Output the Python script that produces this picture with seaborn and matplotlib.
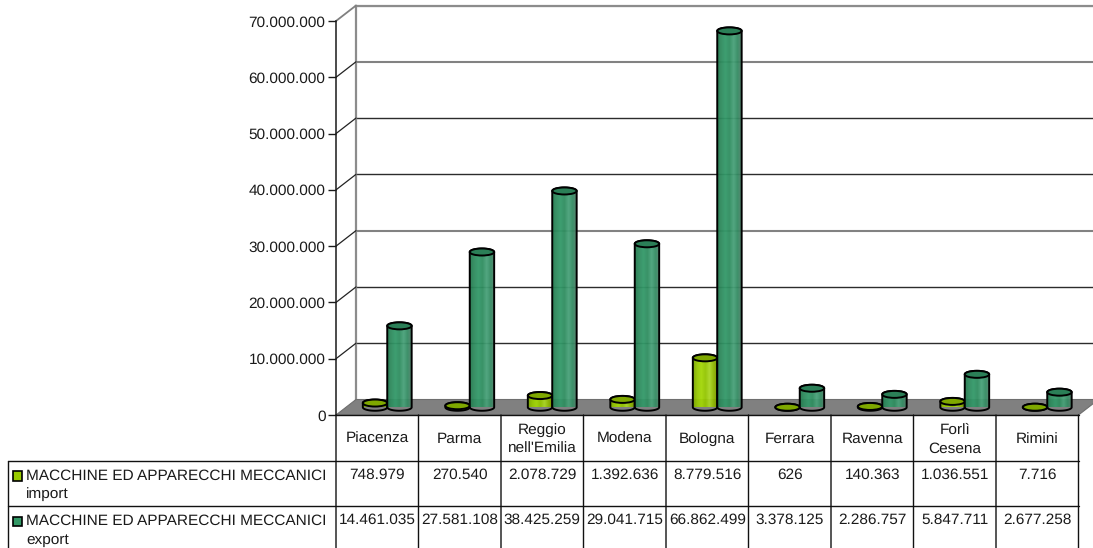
import numpy as np
import pandas as pd
import matplotlib
matplotlib.use("Agg")
import matplotlib.pyplot as plt
from matplotlib.colors import LinearSegmentedColormap
from matplotlib.patches import ConnectionPatch, Ellipse, Polygon, Rectangle
from matplotlib.ticker import FuncFormatter
import seaborn as sns

# ---------- data ----------
categories = ["Piacenza", "Parma", "Reggio\nnell'Emilia", "Modena", "Bologna",
              "Ferrara", "Ravenna", "Forlì\nCesena", "Rimini"]
import_values = [748979, 270540, 2078729, 1392636, 8779516, 626, 140363, 1036551, 7716]
export_values = [14461035, 27581108, 38425259, 29041715, 66862499, 3378125, 2286757, 5847711, 2677258]
series_names = ["MACCHINE ED APPARECCHI MECCANICI\nimport",
                "MACCHINE ED APPARECCHI MECCANICI\nexport"]
series_colors = ["#99CC00", "#339966"]
top_colors = ["#7FA800", "#2B7F57"]
gradients = [["#7AA600", "#96C800", "#A4D808", "#92C400", "#ACD828", "#8DB600", "#768F00"],
             ["#25794F", "#2E8B5E", "#349A6A", "#2F8C5F", "#4BA37B", "#348A62", "#55806C"]]
y_ticks = [0, 10000000, 20000000, 30000000, 40000000, 50000000, 60000000, 70000000]
soft_grid_ticks = [30000000, 60000000, 70000000]

# ---------- layout (pixels) ----------
W, H = 1093, 548
FRONT_L, FRONT_R, FRONT_B, FRONT_T = 336, 1078.5, 415, 21
DX, DY = 20, 15.5
FS = 11.05
PX_PER_UNIT = (FRONT_B - FRONT_T) / 70000000

sns.set_theme(style="white")
plt.rcParams["font.family"] = ["Liberation Sans", "DejaVu Sans"]
plt.rcParams["axes.facecolor"] = "none"
plt.rcParams["text.hinting"] = "no_hinting"
fig = plt.figure(figsize=(W / 100, H / 100), dpi=100, facecolor="white")


def plane(dx, dy, z):
    ax = fig.add_axes([(FRONT_L + dx) / W, 1 - (FRONT_B - dy) / H,
                       (FRONT_R - FRONT_L) / W, (FRONT_B - FRONT_T) / H], zorder=z)
    ax.set_facecolor("none")
    return ax


back = plane(DX, DY, 0)
mid = plane(DX / 2, DY / 2, 2)
front = plane(0, 0, 1)
tab = fig.add_axes([FRONT_L / W, 1 - 552 / H, (FRONT_R - FRONT_L) / W, (552 - FRONT_B) / H], zorder=3)
tab.set_facecolor("none")

# ---------- back wall + gridlines ----------
back.set_xlim(0, 9)
back.set_ylim(0, 70000000)
back.set_yticks(y_ticks)
back.set_xticks([])
back.tick_params(left=False, labelleft=False)
back.grid(axis="y", color="#2c2c2c", lw=1.0)
back.set_axisbelow(True)
for v, gl in zip(y_ticks, back.get_ygridlines()):
    if v in soft_grid_ticks:
        gl.set_color("#828282")
        gl.set_linewidth(1.5)
for name, sp in back.spines.items():
    sp.set_visible(name in ("left", "top"))
    sp.set_color("#8c8c8c")
    sp.set_linewidth(1.6)

# ---------- front axis ----------
front.set_xlim(0, 9)
front.set_ylim(0, 70000000)
front.set_yticks(y_ticks)
front.set_xticks([])
front.yaxis.set_major_formatter(FuncFormatter(lambda v, _: f"{int(v):,}".replace(",", ".")))
front.tick_params(axis="y", left=True, length=5.8, width=1.0, color="#1a1a1a",
                  labelsize=FS, labelcolor="#1a1a1a", pad=1.8)
sns.despine(ax=front, top=True, right=True, bottom=True)
front.spines["left"].set_color("#1a1a1a")
front.spines["left"].set_linewidth(1.1)
for v in y_ticks[1:]:
    top_line = v == y_ticks[-1]
    fig.add_artist(ConnectionPatch(xyA=(0, v), xyB=(0, v), coordsA=front.transData, coordsB=back.transData,
                                   color="#808080" if top_line else "#222222", lw=1.3 if top_line else 0.9,
                                   zorder=1))

# ---------- floor ----------
corners = [front.transData.transform((0, 0)), front.transData.transform((9, 0)),
           back.transData.transform((9, 0)), back.transData.transform((0, 0))]
fig_xy = [fig.transFigure.inverted().transform(c) for c in corners]
front.add_patch(Polygon(fig_xy, closed=True, transform=fig.transFigure, facecolor="#808080",
                        edgecolor="#6e6e6e", lw=0.8, clip_on=False, zorder=0.5))

# ---------- cylinders ----------
df = pd.DataFrame({
    "provincia": categories * 2,
    "serie": ["import"] * len(categories) + ["export"] * len(categories),
    "valore": import_values + export_values,
})
sns.barplot(data=df, x="provincia", y="valore", hue="serie", order=categories,
            hue_order=["import", "export"], palette=series_colors, width=0.592, gap=0,
            errorbar=None, legend=False, saturation=1, linewidth=0, alpha=0.5, ax=mid)
bars = [p for p in mid.patches if isinstance(p, Rectangle)]
n = len(categories)
ell_h = 7.0 / PX_PER_UNIT
t = np.linspace(0, np.pi, 40)
for i, bar in enumerate(bars):
    s = i // n
    x0, w, val = bar.get_x(), bar.get_width(), bar.get_height()
    xc = x0 + w / 2
    arc_x = xc - np.cos(t) * w / 2
    lower = np.column_stack([arc_x, -np.sin(t) * ell_h / 2])
    upper = np.column_stack([arc_x[::-1], val + np.sin(t[::-1]) * ell_h / 2])
    z = 3 + (i % n) * 3 + s * 1.5
    body = Polygon(np.vstack([lower, upper]), closed=True, facecolor="none", edgecolor="black",
                   lw=1.4, zorder=z + 0.5, clip_on=False)
    mid.add_patch(body)
    bar.set_zorder(z)
    bar.set_clip_path(body)
    cmap = LinearSegmentedColormap.from_list("g", gradients[s])
    im = mid.imshow(np.linspace(0, 1, 48).reshape(1, -1), cmap=cmap, aspect="auto", alpha=0.9,
                    extent=(x0, x0 + w, -ell_h, val + ell_h), zorder=z + 0.2, interpolation="bilinear")
    im.set_clip_path(body)
    im.set_clip_box(None)
    mid.add_patch(Ellipse((xc, val), w, ell_h, facecolor=top_colors[s], edgecolor="black",
                          lw=1.4, zorder=z + 1, clip_on=False))
mid.set_xlim(-0.5, 8.5)
mid.set_ylim(0, 70000000)
mid.axis("off")

# ---------- data table ----------
tab.set_xlim(0, 9)
tab.set_ylim(3, 0)
tab.axis("off")
row_h = (552 - FRONT_B) / 3
unit_x = (FRONT_R - FRONT_L) / 9
left = (8.0 - FRONT_L) / unit_x
line_kw = dict(color="#111111", lw=1.0, clip_on=False)
tab.plot([0, 9], [0, 0], **line_kw)
for r in (1, 2, 3):
    tab.plot([left, 9], [r, r], **line_kw)
for c in range(10):
    tab.plot([c, c], [0, 3], snap=False, **line_kw)
tab.plot([left, left], [1, 3], **line_kw)

text_kw = dict(fontsize=FS, color="#1a1a1a", clip_on=False, linespacing=1.42)
fmt = lambda v: f"{v:,}".replace(",", ".")
for c, name in enumerate(categories):
    tab.text(c + 0.5, 0.5 + 1.5 / row_h, name, ha="center", va="center", **text_kw)
    tab.text(c + 0.5, 1 + 14 / row_h, fmt(import_values[c]), ha="center", va="center", **text_kw)
    tab.text(c + 0.5, 2 + 13.5 / row_h, fmt(export_values[c]), ha="center", va="center", **text_kw)

for r, (label, col) in enumerate(zip(series_names, series_colors)):
    tab.text(left + 18 / unit_x, 1 + r + 8 / row_h, label, ha="left", va="top", **text_kw)
    tab.add_patch(Rectangle((left + 4.5 / unit_x, 1 + r + 10.5 / row_h), 9.5 / unit_x, 9.5 / row_h,
                            facecolor=col, edgecolor="black", lw=1.2, clip_on=False))

fig.savefig("out.png", dpi=100)
